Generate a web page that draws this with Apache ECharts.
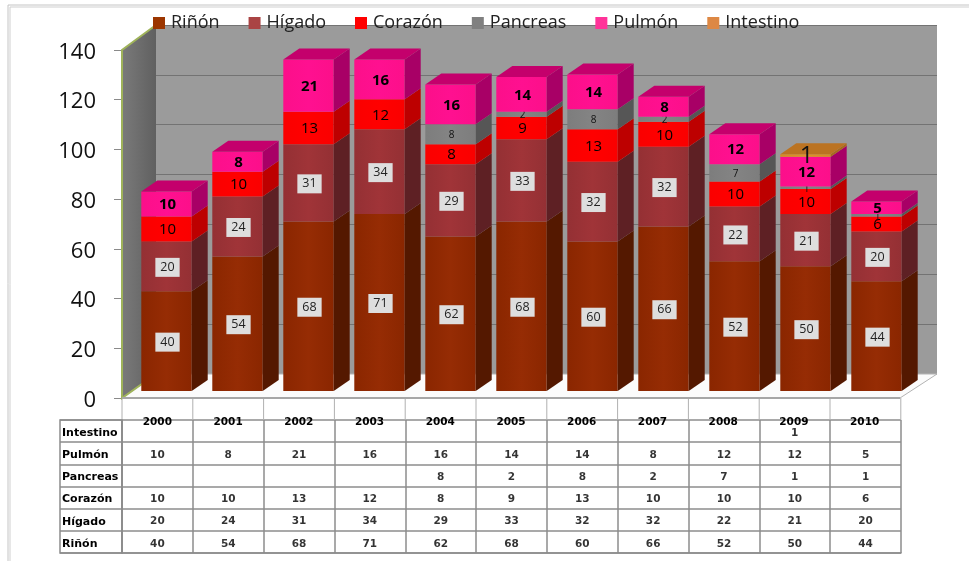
<!DOCTYPE html>
<html><head><meta charset="utf-8">
<style>html,body{margin:0;padding:0;background:#fff}#c{width:969px;height:561px}</style>
<script src="https://cdn.jsdelivr.net/npm/echarts@6/dist/echarts.min.js"></script>
</head><body><div id="c"></div>
<script>
const years = ['2000','2001','2002','2003','2004','2005','2006','2007','2008','2009','2010'];
const rinon = [40,54,68,71,62,68,60,66,52,50,44];
const higado = [20,24,31,34,29,33,32,32,22,21,20];
const corazon = [10,10,13,12,8,9,13,10,10,10,6];
const pancreas = [null,null,null,null,8,2,8,2,7,1,1];
const pulmon = [10,8,21,16,16,14,14,8,12,12,5];
const intestino = [null,null,null,null,null,null,null,null,null,1,null];
const yTicks = [0,20,40,60,80,100,120,140];

const organs = [
 {name:'Riñón', values:rinon, legend:'#9c3600', front:['#8a2600','#962c04','#8a2600'], side:'#541800', top:'#6e2202', label:{font:'12.5px "Open Sans"',bg:'#dedede',fill:'#222'}},
 {name:'Hígado', values:higado, legend:'#aa4444', front:['#943034','#a03438','#943034'], side:'#5e2024', top:'#7a282c', label:{font:'12.5px "Open Sans"',bg:'#dedede',fill:'#222'}},
 {name:'Corazón', values:corazon, legend:'#ff0000', front:['#fa0000','#ff0000','#fa0000'], side:'#bd0000', top:'#cc0000', label:{font:'15px "Open Sans"',fill:'#000'}},
 {name:'Pancreas', values:pancreas, legend:'#808080', front:['#7d7d7d','#848484','#7d7d7d'], side:'#565656', top:'#666', label:{font:'10px "Open Sans"',fill:'#111'}},
 {name:'Pulmón', values:pulmon, legend:'#ff3399', front:['#fc0f8a','#ff1090','#fc0f8a'], side:'#a80066', top:'#c4006c', label:{font:'bold 15px "Open Sans"',fill:'#000'}},
 {name:'Intestino', values:intestino, legend:'#dd8844', front:['#d88a20','#e09028','#d88a20'], side:'#a86a1c', top:'#bb7322', label:{font:'24px "Open Sans"',fill:'#111'}}
];
const tableRows = [intestino,pulmon,pancreas,corazon,higado,rinon];
const rowNames = ['Intestino','Pulmón','Pancreas','Corazón','Hígado','Riñón'];
const tableFont = {fontFamily:'"DejaVu Sans"',fontWeight:'bold',fontSize:10.5,color:'#000'};

const DX = 16, DY = -11;
function bases(idx){
  return years.map((_,i)=>{let s=0;for(let k=0;k<idx;k++)s+=organs[k].values[i]||0;return s;});
}
function totals(){return years.map((_,i)=>organs.reduce((s,o)=>s+(o.values[i]||0),0));}
const tot = totals();

const series = organs.map((o,idx)=>{
  const b = bases(idx);
  const data = o.values.map((v,i)=>v==null?null:[i,b[i],b[i]+v,v]).filter(Boolean);
  return {
    name:o.name, type:'custom', xAxisIndex:1, yAxisIndex:1, z:5+idx,
    itemStyle:{color:o.legend},
    encode:{x:0,y:[1,2]},
    data,
    renderItem(params,api){
      const i=api.value(0), s=api.value(1), e=api.value(2), val=api.value(3);
      const pb=api.coord([i,s]), pt=api.coord([i,e]);
      const w=api.size([1,0])[0]*0.71;
      const x0=pb[0]-w/2, x1=pb[0]+w/2, yb=pb[1], yt=pt[1];
      const kids=[];
      kids.push({type:'rect',shape:{x:x0,y:yt,width:w,height:yb-yt},style:{fill:{type:'linear',x:0,y:0,x2:1,y2:0,colorStops:[{offset:0,color:o.front[0]},{offset:.5,color:o.front[1]},{offset:1,color:o.front[2]}]}}});
      kids.push({type:'polygon',shape:{points:[[x1,yb],[x1+DX,yb+DY],[x1+DX,yt+DY],[x1,yt]]},style:{fill:o.side}});
      if(e>=tot[i]) kids.push({type:'polygon',shape:{points:[[x0,yt],[x0+DX,yt+DY],[x1+DX,yt+DY],[x1,yt]]},style:{fill:o.top}});
      const lb=o.label;
      const ts={text:String(val),x:pb[0]+1,y:(yb+yt)/2+1,align:'center',verticalAlign:'middle',font:lb.font,fill:lb.fill};
      if(lb.bg){ts.backgroundColor=lb.bg;ts.padding=[3,5,3,5];}
      kids.push({type:'text',z2:20,style:ts});
      return {type:'group',children:kids};
    }
  };
});

const tableData=[];
tableRows.forEach((row,r)=>row.forEach((v,c)=>{if(v!=null)tableData.push([c,r,v]);}));
series.push({
  type:'scatter',xAxisIndex:3,yAxisIndex:3,symbolSize:0,silent:true,data:tableData,legendHoverLink:false,
  label:Object.assign({show:true,position:'inside',offset:[0,2],formatter:p=>p.value[2]},tableFont)
});
series.push({type:'line',xAxisIndex:2,yAxisIndex:2,data:[],silent:true});
series.push({type:'line',xAxisIndex:0,yAxisIndex:0,data:[],silent:true});

const option={
  animation:false,
  backgroundColor:'#fff',
  textStyle:{fontFamily:'"Open Sans"'},
  legend:{
    top:9,left:148,itemWidth:12,itemHeight:12,itemGap:29,icon:'rect',
    data:organs.map(o=>o.name),
    textStyle:{fontSize:18,color:'#222',fontFamily:'"Open Sans"',padding:[0,0,0,1]}
  },
  grid:[
    {left:122,width:778,top:50,height:348},
    {left:131,width:781,top:42,height:349},
    {left:156,width:781,top:25,height:349,show:true,backgroundColor:'#9b9b9b',borderWidth:0},
    {left:122,width:779,top:420,height:133}
  ],
  xAxis:[
    {gridIndex:0,type:'category',data:years,position:'bottom',axisLine:{show:false},axisTick:{show:false},
     axisLabel:Object.assign({margin:19,interval:0},tableFont)},
    {gridIndex:1,type:'category',data:years,show:false},
    {gridIndex:2,type:'category',data:years,show:false},
    {gridIndex:3,type:'category',data:years,position:'bottom',axisLabel:{show:false},axisTick:{show:false},
     axisLine:{show:true,lineStyle:{color:'#8c8c8c',width:1.5}},
     splitLine:{show:true,interval:0,lineStyle:{color:'#8c8c8c',width:1.5}}}
  ],
  yAxis:[
    {gridIndex:0,type:'value',min:0,max:140,interval:20,
     axisLine:{show:false},axisTick:{show:true,length:8,lineStyle:{color:'#8a8a8a'}},splitLine:{show:false},
     axisLabel:{margin:26,fontSize:22,color:'#111',fontFamily:'"Open Sans"',verticalAlign:'top',lineHeight:5,formatter:v=>yTicks.includes(v)?String(v):''}},
    {gridIndex:1,type:'value',min:0,max:140,interval:20,show:false},
    {gridIndex:2,type:'value',min:0,max:140,interval:20,axisLine:{show:false},axisTick:{show:false},axisLabel:{show:false},
     splitLine:{show:true,lineStyle:{color:'#737373',width:1}}},
    {gridIndex:3,type:'category',data:rowNames,inverse:true,
     axisLine:{show:true,lineStyle:{color:'#8c8c8c',width:1.5}},
     axisTick:{show:true,length:62,lineStyle:{color:'#8c8c8c',width:1.5}},
     axisLabel:Object.assign({margin:60,align:'left',interval:0,verticalAlign:'top',lineHeight:4},tableFont,{fontSize:11}),
     splitLine:{show:true,interval:0,lineStyle:{color:'#8c8c8c',width:1.5}}}
  ],
  graphic:{elements:[
    {type:'rect',z:-2,shape:{x:8,y:5,width:970,height:600},style:{fill:'#fff',stroke:'#c4c4c4',lineWidth:1}},
    {type:'rect',z:-2,shape:{x:10,y:7,width:970,height:600},style:{fill:'#fff',stroke:'#cfcfcf',lineWidth:1}},
    {type:'polygon',z:1,shape:{points:[[122,50],[156,25],[156,374],[122,398]]},style:{fill:{type:'linear',x:0,y:0,x2:1,y2:0,colorStops:[{offset:0,color:'#7a7a7a'},{offset:1,color:'#606060'}]}}},
    {type:'polyline',z:2,shape:{points:[[156,25],[122,50],[122,398],[156,374]]},style:{stroke:'#9fb35a',lineWidth:2,fill:null}},
    {type:'polygon',z:1,shape:{points:[[122,398],[156,374],[937,374],[900,398]]},style:{fill:'#fbfbfb',stroke:'#b4b4b4',lineWidth:1}},
    {type:'line',z:2,shape:{x1:122,y1:398,x2:900,y2:398},style:{stroke:'#a6a6a6',lineWidth:2}},
    {type:'rect',z:3,shape:{x:60,y:420,width:62,height:133},style:{fill:null,stroke:'#8c8c8c',lineWidth:1.5}}
  ].concat(years.concat(['']).map((_,i)=>({type:'line',z:1,shape:{x1:122+i*70.8,y1:398,x2:122+i*70.8,y2:420},style:{stroke:'#b0b0b0',lineWidth:1}})))},
  series
};
const chart=echarts.init(document.getElementById('c'));
chart.setOption(option);
</script></body></html>
